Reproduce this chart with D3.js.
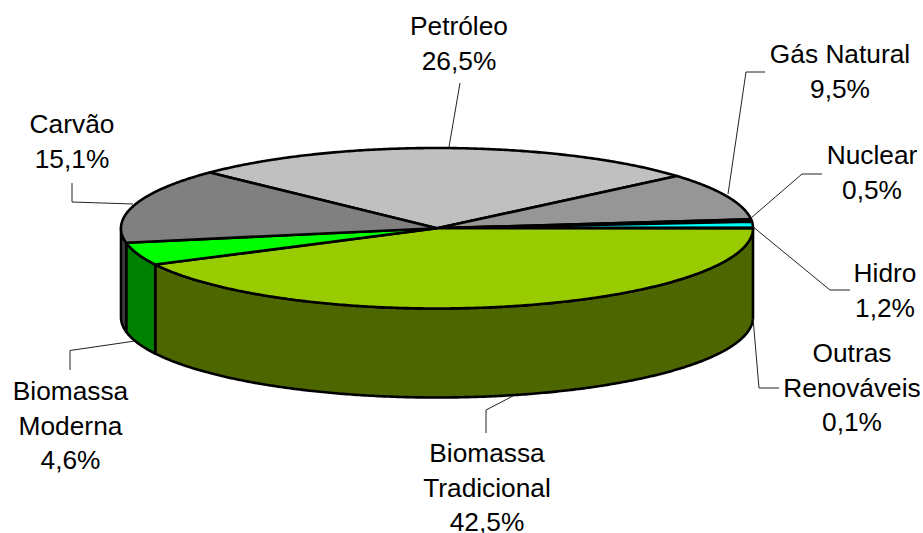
<!DOCTYPE html>
<html>
<head>
<meta charset="utf-8">
<script src="https://cdn.jsdelivr.net/npm/d3@7"></script>
<style>
  html, body { margin: 0; padding: 0; background: #fff; overflow: hidden; }
  svg { display: block; }
  text { font-family: "Liberation Sans", Arial, sans-serif; font-size: 26.3px; fill: #000; }
</style>
</head>
<body>
<script>
// Chart values
const categories = ["Petróleo", "Gás Natural", "Nuclear", "Hidro", "Outras Renováveis", "Biomassa Tradicional", "Biomassa Moderna", "Carvão"];
const shares = [26.5, 9.5, 0.5, 1.2, 0.1, 42.5, 4.6, 15.1];

// Colours, same order as categories
const topColors = ["#c0c0c0", "#969696", "#333366", "#00ffff", "#ccffcc", "#99cc00", "#00ff00", "#808080"];
const wallColors = ["#606060", "#4b4b4b", "#191933", "#008080", "#668066", "#4d6600", "#008000", "#404040"];

// Label placement: text lines, centre x, baseline of first line, leader polyline
const labelLayout = [
    { lines: ["Petróleo"], x: 459, y: 35, leader: [[460, 83], [449, 147]] },
    { lines: ["Gás Natural"], x: 840, y: 63, leader: [[765, 72], [746, 72], [728, 194]] },
    { lines: ["Nuclear"], x: 872, y: 164, leader: [[822, 174], [802, 174], [751, 218]] },
    { lines: ["Hidro"], x: 885, y: 282, leader: [[850, 290], [830, 290], [752, 226]] },
    { lines: ["Outras", "Renováveis"], x: 852, y: 362, leader: [[779, 388], [759, 388], [753, 318]] },
    { lines: ["Biomassa", "Tradicional"], x: 487, y: 462, leader: [[486, 433], [486, 410], [513, 396]] },
    { lines: ["Biomassa", "Moderna"], x: 70.5, y: 400, leader: [[70, 370], [70, 350.5], [135, 341]] },
    { lines: ["Carvão"], x: 72, y: 133, leader: [[72, 183], [72, 202], [133, 204]] }
];

const width = 923;
const height = 533;
const depth = 89;
const lineHeight = 34.7;
const rad = Math.PI / 180;

const svg = d3.select("body").append("svg")
    .attr("width", width)
    .attr("height", height)
    .attr("viewBox", [0, 0, width, height]);

// Squashed pie: x and y go from the unit circle to the ellipse
const x = d3.scaleLinear().domain([-1, 1]).range([121, 753]);
const y = d3.scaleLinear().domain([-1, 1]).range([148, 308.5]);

const startAngle = -46 * rad;
const pie = d3.pie().sort(null).startAngle(startAngle).endAngle(startAngle + 2 * Math.PI);
const arcs = pie(shares);

const px = a => x(Math.sin(a));
const py = a => y(-Math.cos(a));
const line = d3.line();

function rimPoints(a0, a1) {
    const n = Math.max(2, Math.ceil((a1 - a0) / (0.5 * rad)));
    return d3.range(n + 1).map(i => {
        const a = a0 + (a1 - a0) * i / n;
        return [px(a), py(a)];
    });
}

// Side walls, only the front half of the rim shows
const walls = svg.append("g")
    .attr("stroke", "#000")
    .attr("stroke-width", 2.6)
    .attr("stroke-linejoin", "round");

arcs.forEach((d, i) => {
    const a0 = Math.max(d.startAngle, 90 * rad);
    const a1 = Math.min(d.endAngle, 270 * rad);
    if (a1 <= a0 || a1 - a0 < 0.5 * rad) return;
    const upper = rimPoints(a0, a1);
    const lower = upper.map(p => [p[0], p[1] + depth]).reverse();
    walls.append("path")
        .attr("d", line(upper.concat(lower)) + "Z")
        .attr("fill", wallColors[i]);
});

// Top face
svg.append("g")
    .attr("stroke", "#000")
    .attr("stroke-width", 2.6)
    .attr("stroke-linejoin", "round")
    .selectAll("path")
    .data(arcs)
    .join("path")
    .attr("fill", (d, i) => topColors[i])
    .attr("d", d => line([[x(0), y(0)], ...rimPoints(d.startAngle, d.endAngle)]) + "Z");

// Leader lines
svg.append("g")
    .attr("fill", "none")
    .attr("stroke", "#222")
    .attr("stroke-width", 1)
    .selectAll("path")
    .data(labelLayout)
    .join("path")
    .attr("d", d => line(d.leader));

// Labels
const fmt = d3.formatLocale({ decimal: ",", thousands: ".", grouping: [3], currency: ["", ""] }).format(".1f");

const label = svg.append("g")
    .attr("text-anchor", "middle")
    .selectAll("text")
    .data(labelLayout)
    .join("text")
    .attr("x", d => d.x)
    .attr("y", d => d.y);

label.each(function (d, i) {
    const rows = d.lines.concat(fmt(shares[i]) + "%");
    d3.select(this).selectAll("tspan")
        .data(rows)
        .join("tspan")
        .attr("x", d.x)
        .attr("dy", (r, j) => j === 0 ? 0 : lineHeight)
        .text(r => r);
});
</script>
</body>
</html>
